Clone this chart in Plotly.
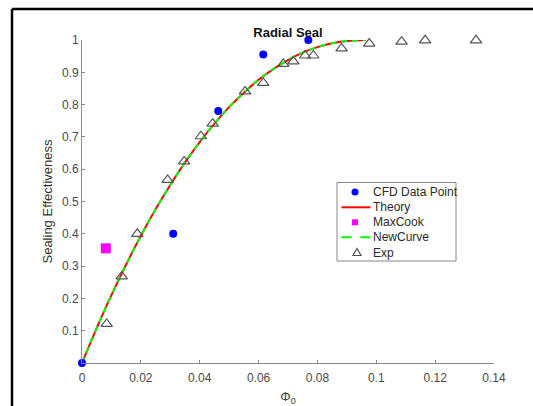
import plotly.graph_objects as go

# CFD data points
cfd_x = [0.0, 0.031, 0.0463, 0.0616, 0.0769]
cfd_y = [0.0, 0.40, 0.78, 0.955, 1.0]

# MaxCook point
mc_x = [0.0081]
mc_y = [0.355]

# Theory curve
th_x = [0.0, 0.005, 0.01, 0.015, 0.02, 0.025, 0.03, 0.035, 0.04, 0.045, 0.05,
        0.055, 0.06, 0.065, 0.07, 0.075, 0.08, 0.085, 0.09, 0.0964]
th_y = [0.0, 0.108, 0.21, 0.305, 0.394, 0.476, 0.551, 0.621, 0.684, 0.741, 0.792,
        0.837, 0.877, 0.91, 0.938, 0.961, 0.978, 0.99, 0.997, 1.0]

# NewCurve (coincides with theory)
nc_x = list(th_x)
nc_y = list(th_y)

# Experimental points
exp_x = [0.0084, 0.0135, 0.0188, 0.0291, 0.0347, 0.0404, 0.0444, 0.0554, 0.0616,
         0.0684, 0.0718, 0.0758, 0.0786, 0.0882, 0.0976, 0.1086, 0.1166, 0.1339]
exp_y = [0.121, 0.268, 0.40, 0.567, 0.624, 0.702, 0.741, 0.841, 0.867,
         0.926, 0.934, 0.952, 0.952, 0.974, 0.989, 0.995, 0.999, 0.999]

x_ticks = [0, 0.02, 0.04, 0.06, 0.08, 0.1, 0.12, 0.14]
x_tick_labels = ["0", "0.02", "0.04", "0.06", "0.08", "0.1", "0.12", "0.14"]
y_ticks = [0.1, 0.2, 0.3, 0.4, 0.5, 0.6, 0.7, 0.8, 0.9, 1]
y_tick_labels = ["0.1", "0.2", "0.3", "0.4", "0.5", "0.6", "0.7", "0.8", "0.9", "1"]

legend_names = ["CFD Data Point", "Theory", "MaxCook", "NewCurve", "Exp"]

# layout geometry (pixels)
W, H = 533, 406
ML, MR, MT, MB = 82, 39, 40, 43
PW, PH = W - ML - MR, H - MT - MB


def px(xp):
    return (xp - ML) / PW


def py(yp):
    return (H - MB - yp) / PH


fig = go.Figure()
fig.add_trace(go.Scatter(x=th_x, y=th_y, mode="lines", name="Theory", showlegend=False,
                         line=dict(color="#ff0000", width=2, shape="spline"),
                         cliponaxis=False))
fig.add_trace(go.Scatter(x=nc_x, y=nc_y, mode="lines", name="NewCurve", showlegend=False,
                         line=dict(color="#00ff00", width=2, dash="6px,5px", shape="spline"),
                         cliponaxis=False))
fig.add_trace(go.Scatter(x=cfd_x, y=cfd_y, mode="markers", name="CFD Data Point", showlegend=False,
                         marker=dict(color="#0000ff", size=8, symbol="circle"),
                         cliponaxis=False))
fig.add_trace(go.Scatter(x=mc_x, y=mc_y, mode="markers", name="MaxCook", showlegend=False,
                         marker=dict(color="#ff00ff", size=10, symbol="square"),
                         cliponaxis=False))
fig.add_trace(go.Scatter(x=exp_x, y=exp_y, mode="markers", name="Exp", showlegend=False,
                         marker=dict(symbol="triangle-up-open", size=10, color="#555555",
                                     line=dict(width=1.2, color="#555555")),
                         cliponaxis=False))

shapes = []
# outer frame (screenshot border)
shapes.append(dict(type="line", xref="paper", yref="paper", x0=px(12), x1=px(12),
                   y0=py(9), y1=py(H + 5), line=dict(color="black", width=2.5)))
shapes.append(dict(type="line", xref="paper", yref="paper", x0=px(12), x1=px(W + 5),
                   y0=py(9), y1=py(9), line=dict(color="black", width=2.5)))

# custom compact legend
lx0, lx1, ly0, ly1 = 337, 456, 182.5, 261
shapes.append(dict(type="rect", xref="paper", yref="paper", x0=px(lx0), x1=px(lx1),
                   y0=py(ly0), y1=py(ly1), line=dict(color="#888888", width=1),
                   fillcolor="white", layer="above"))
row_y = [192, 207.3, 222.3, 237.3, 252.5]
sym_x = 355
# CFD circle
shapes.append(dict(type="circle", xref="paper", yref="paper", xsizemode="pixel", ysizemode="pixel",
                   xanchor=px(sym_x), yanchor=py(row_y[0]), x0=-3.5, x1=3.5, y0=-3.5, y1=3.5,
                   fillcolor="#0000ff", line=dict(color="#0000ff", width=0), layer="above"))
# Theory line
shapes.append(dict(type="line", xref="paper", yref="paper", x0=px(341.5), x1=px(370.5),
                   y0=py(row_y[1]), y1=py(row_y[1]), line=dict(color="#ff0000", width=2),
                   layer="above"))
# MaxCook square
shapes.append(dict(type="rect", xref="paper", yref="paper", xsizemode="pixel", ysizemode="pixel",
                   xanchor=px(sym_x), yanchor=py(row_y[2]), x0=-3, x1=3, y0=-3, y1=3,
                   fillcolor="#ff00ff", line=dict(color="#ff00ff", width=0), layer="above"))
# NewCurve dashed line
shapes.append(dict(type="line", xref="paper", yref="paper", x0=px(341.5), x1=px(370.5),
                   y0=py(row_y[3]), y1=py(row_y[3]),
                   line=dict(color="#00ff00", width=2, dash="10px,9px"), layer="above"))
# Exp triangle
shapes.append(dict(type="path", xref="paper", yref="paper", xsizemode="pixel", ysizemode="pixel",
                   xanchor=px(sym_x + 2), yanchor=py(row_y[4]),
                   path="M -4 -3 L 4 -3 L 0 4 Z",
                   line=dict(color="#555555", width=1.2), fillcolor="rgba(0,0,0,0)",
                   layer="above"))

annotations = []
for name, ry in zip(legend_names, row_y):
    annotations.append(dict(text=name, xref="paper", yref="paper", x=px(370.5), y=py(ry),
                            xanchor="left", yanchor="middle", showarrow=False,
                            font=dict(size=12, color="#2a2a2a")))

fig.update_layout(
    width=W, height=H,
    margin=dict(l=ML, r=MR, t=MT, b=MB, autoexpand=False),
    paper_bgcolor="white", plot_bgcolor="white",
    font=dict(family="Liberation Sans, Arial, sans-serif", color="#444444", size=12),
    title=dict(text="<b>Radial Seal</b>", x=288 / W, xanchor="center",
               y=1 - 32 / H, yanchor="middle",
               font=dict(size=13, color="#111111")),
    showlegend=False,
    shapes=shapes,
    annotations=annotations,
)

fig.update_xaxes(range=[0, 0.14], tickvals=x_ticks, ticktext=x_tick_labels,
                 showgrid=False, zeroline=False, showline=True, linecolor="#888888",
                 linewidth=1, ticks="inside", ticklen=3, tickcolor="#888888",
                 tickfont=dict(size=12, color="#4a4a4a"), automargin=False,
                 ticklabelstandoff=4,
                 title=dict(text="Φ<sub>0</sub>", font=dict(size=13, color="#444444"), standoff=16))
fig.update_yaxes(range=[0, 1], tickvals=y_ticks, ticktext=y_tick_labels,
                 showgrid=False, zeroline=False, showline=True, linecolor="#888888",
                 linewidth=1, ticks="inside", ticklen=3, tickcolor="#888888",
                 tickfont=dict(size=12, color="#4a4a4a"), automargin=False,
                 title=dict(text="Sealing Effectiveness", font=dict(size=13, color="#333333"), standoff=6))

fig.write_html("out.html")
